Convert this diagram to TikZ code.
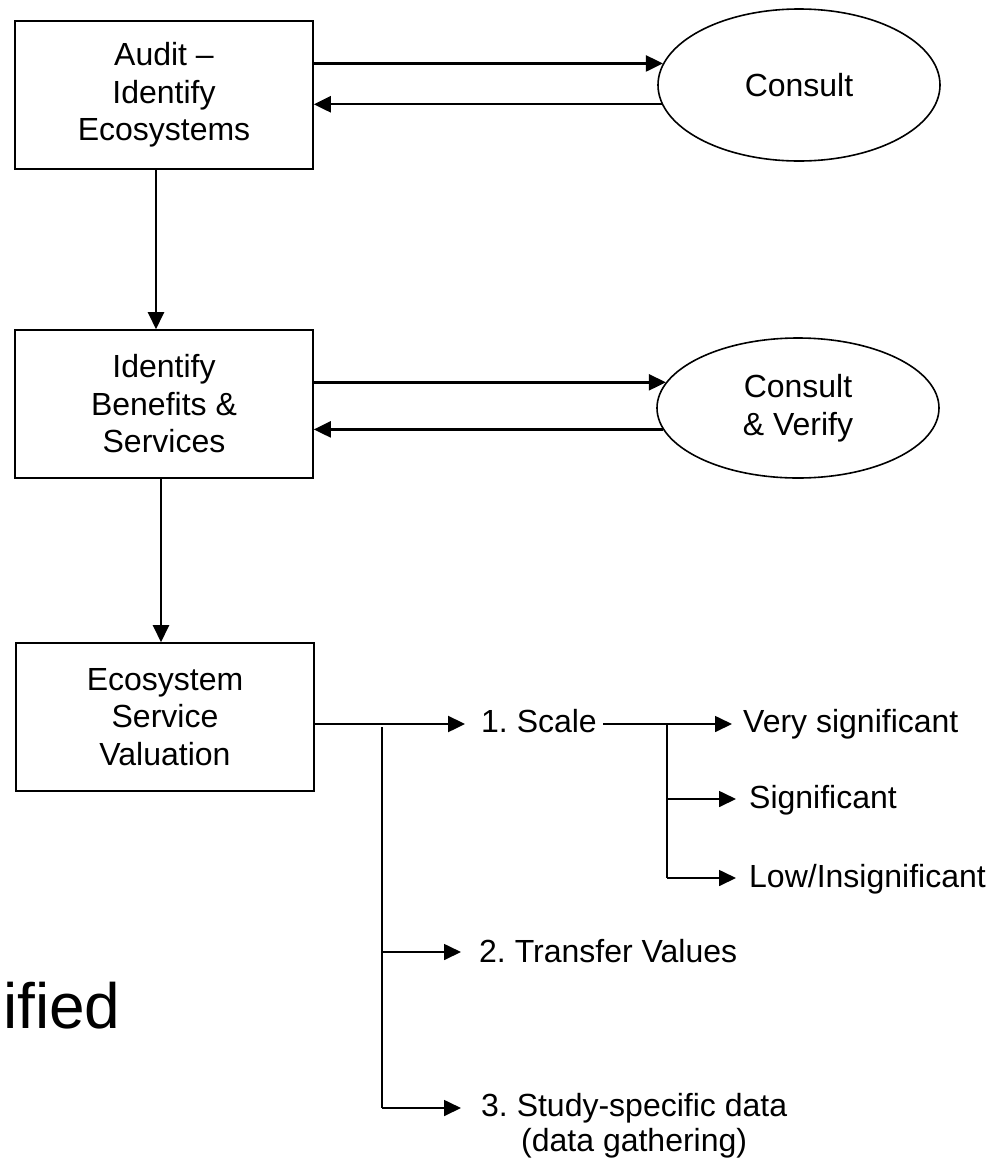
\documentclass[tikz,border=0pt]{standalone}
\usepackage{fontspec}
\setmainfont{Liberation Sans}
\usetikzlibrary{arrows.meta,shapes.geometric}
\frenchspacing

\begin{document}
\begin{tikzpicture}[x=1pt,y=-1pt,
  every node/.style={font=\fontsize{32}{37.5}\selectfont},
  stepbox/.style={draw, line width=1.6pt, minimum width=298, minimum height=148,
                  align=center, inner sep=0},
  talk/.style={draw, ellipse, line width=1.6pt, minimum width=282,
               align=center, inner sep=0},
  tip/.style={-{Triangle[length=17pt,width=16pt]}},
  flow/.style={tip, line width=2.4pt},
  twig/.style={tip, line width=1.7pt},
  tree/.style={line width=1.7pt},
  lbl/.style={anchor=base west, inner sep=0},
  gap/.style={shorten >=#1},
]
\useasboundingbox (0,0) rectangle (1006,1160);

% main steps
\node[stepbox] (a1) at (164,95)  {Audit –\\Identify\\Ecosystems};
\node[stepbox] (a2) at (164,404) {Identify\\Benefits \&\\Services};
\node[stepbox] (a3) at (165,717) {Ecosystem\\Service\\Valuation};

% consultation loops
\node[talk, minimum height=152] (c1) at (799,85)  {Consult};
\node[talk, minimum height=140] (c2) at (798,408) {Consult\\\& Verify};

\draw[flow] (a1.east |- c1.171) -- (c1.171);
\draw[flow] (c1.188) -- (a1.east |- c1.188);
\draw[flow] (a2.east |- c2.169) -- (c2.169);
\draw[flow] (c2.189) -- (a2.east |- c2.189);

% step to step
\draw[flow] ([xshift=-8]a1.south) -- ([xshift=-8]a2.north);
\draw[flow] ([xshift=-3]a2.south) -- ([xshift=-4]a3.north);

% valuation options
\node[lbl] (s1) at (481,732) {1. Scale};
\node[lbl] (s2) at (479,962) {2. Transfer Values};
\node[lbl, anchor=north west, align=center, font=\fontsize{32}{35}\selectfont]
  (s3) at (481,1093) {3. Study-specific data\\(data gathering)};

\coordinate (j1) at (382,724);
\coordinate (v1) at (382,727);
\coordinate (j2) at (382,952);
\coordinate (j3) at (382,1108);

\draw[flow, gap=16pt] (a3.east |- j1) -- (s1.west |- j1);
\draw[tree] (v1) -- (j3);
\draw[twig, gap=18pt] (j2) -- (s2.west |- j2);
\draw[twig, gap=20pt] (j3) -- (s3.west |- j3);

% scale levels
\node[lbl] (l1) at (743,732) {Very significant};
\node[lbl] (l2) at (749,808) {Significant};
\node[lbl] (l3) at (749,887) {Low/Insignificant};

\coordinate (k1) at (667,724);
\coordinate (k2) at (667,799);
\coordinate (k3) at (667,878);

\draw[twig, shorten <=6pt, gap=11pt] (s1.east |- k1) -- (l1.west |- k1);
\draw[tree] (k1) -- (k3);
\draw[twig, gap=13pt] (k2) -- (l2.west |- k2);
\draw[twig, gap=13pt] (k3) -- (l3.west |- k3);

% word running in from the left edge
\node[anchor=base west, inner sep=0, font=\fontsize{64}{70}\selectfont]
  (w) at (3,1028) {ified};
\end{tikzpicture}
\end{document}
